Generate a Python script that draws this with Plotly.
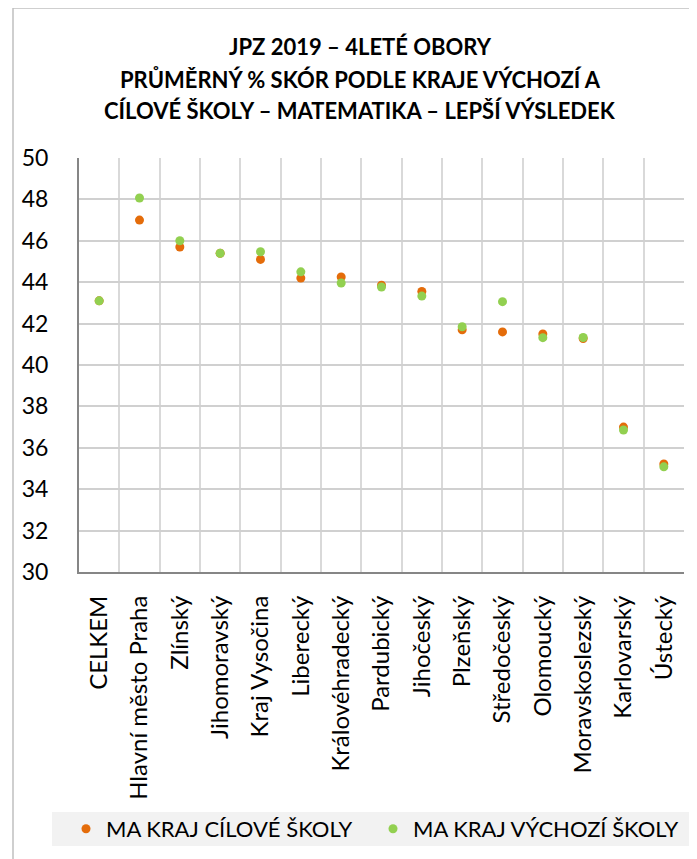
import plotly.graph_objects as go

categories = ["CELKEM", "Hlavní město Praha", "Zlínský", "Jihomoravský", "Kraj Vysočina",
              "Liberecký", "Královéhradecký", "Pardubický", "Jihočeský", "Plzeňský",
              "Středočeský", "Olomoucký", "Moravskoslezský", "Karlovarský", "Ústecký"]
cilove = [43.1, 47.0, 45.7, 45.4, 45.1, 44.2, 44.25, 43.85, 43.55, 41.7, 41.6, 41.5, 41.28, 37.0, 35.22]
vychozi = [43.1, 48.07, 46.0, 45.4, 45.47, 44.5, 43.96, 43.77, 43.33, 41.85, 43.06, 41.32, 41.33, 36.86, 35.08]
series_names = ["MA KRAJ CÍLOVÉ ŠKOLY", "MA KRAJ VÝCHOZÍ ŠKOLY"]
title_lines = ["JPZ 2019 – 4LETÉ OBORY",
               "PRŮMĚRNÝ % SKÓR PODLE KRAJE VÝCHOZÍ A",
               "CÍLOVÉ ŠKOLY – MATEMATIKA – LEPŠÍ VÝSLEDEK"]

# page is 697x859, the html body has an 8px margin
OFF = 8
W_PX, H_PX = 697 - OFF, 859 - OFF
L, R, T, B = 79, 684, 158, 572   # plot area in page pixels
PW, PH = R - L, B - T


def xp(px):
    return (px - L) / PW


def yp(py):
    return (B - py) / PH


FONT = "Lato, Carlito, 'Open Sans', sans-serif"

fig = go.Figure()
fig.add_trace(go.Scatter(x=categories, y=cilove, mode="markers", name=series_names[0],
                         marker=dict(color="#E46C0A", size=9)))
fig.add_trace(go.Scatter(x=categories, y=vychozi, mode="markers", name=series_names[1],
                         marker=dict(color="#92D050", size=9)))

shapes = [
    dict(type="rect", xref="paper", yref="paper", x0=xp(52), x1=xp(700), y0=yp(846), y1=yp(812),
         fillcolor="#F2F2F2", line=dict(width=0), layer="below"),
    dict(type="line", xref="paper", yref="paper", x0=xp(13), x1=xp(13), y0=yp(8), y1=yp(870),
         line=dict(color="#BFBFBF", width=1.5)),
    dict(type="line", xref="paper", yref="paper", x0=xp(13), x1=xp(700), y0=yp(8), y1=yp(8),
         line=dict(color="#BFBFBF", width=1.5)),
]

annotations = []
for i, (line, ypx) in enumerate(zip(title_lines, [47, 79, 111])):
    annotations.append(dict(text="<b>" + line + "</b>", xref="paper", yref="paper",
                            x=xp(360), y=yp(ypx), xanchor="center", yanchor="middle",
                            showarrow=False, font=dict(family=FONT, size=22, color="#000000")))

fig.update_layout(
    width=W_PX, height=H_PX,
    margin=dict(l=L - OFF, r=697 - R, t=T - OFF, b=859 - B, pad=0, autoexpand=False),
    paper_bgcolor="white", plot_bgcolor="white",
    font=dict(family=FONT, size=22, color="#000000"),
    showlegend=True,
    legend=dict(orientation="h", x=xp(66), y=yp(829), xanchor="left", yanchor="middle",
                bgcolor="rgba(0,0,0,0)", font=dict(family=FONT, size=22, color="#000000"),
                itemwidth=30, entrywidth=262, entrywidthmode="pixels"),
    shapes=shapes,
    annotations=annotations,
    xaxis=dict(type="category", range=[-0.5, 14.5], tickson="boundaries", showgrid=True,
               gridcolor="#D9D9D9", gridwidth=1.5, showline=True, linecolor="#868686", linewidth=2,
               tickangle=-90, ticks="", ticklabelstandoff=12, zeroline=False,
               tickfont=dict(family=FONT, size=24, color="#000000"), fixedrange=True),
    yaxis=dict(range=[30, 50], dtick=2, showgrid=True, gridcolor="#D0D0D0", gridwidth=1.5,
               showline=True, linecolor="#868686", linewidth=2, ticks="", ticklabelstandoff=24,
               zeroline=False, tickfont=dict(family=FONT, size=23, color="#000000"), fixedrange=True),
)

fig.write_html("out.html")
